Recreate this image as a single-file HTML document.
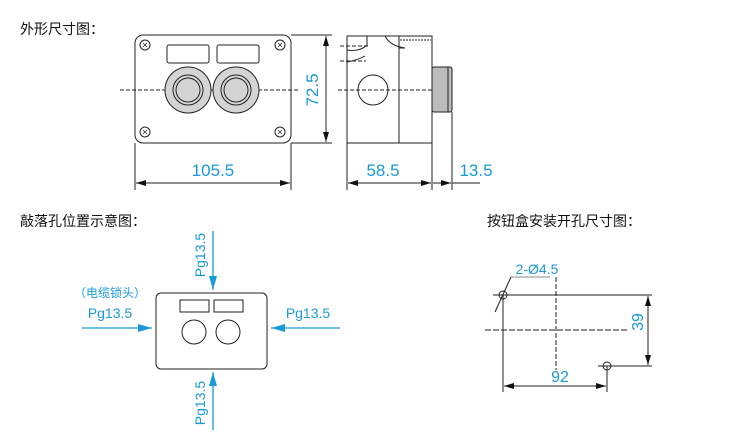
<!DOCTYPE html>
<html><head><meta charset="utf-8"><style>
body{margin:0;background:#fff;width:750px;height:441px;overflow:hidden}
svg{display:block}
.t{font-family:"Liberation Sans","Noto Sans CJK SC",sans-serif;font-size:14px;fill:#111}
.b{font-family:"Liberation Sans","Noto Sans CJK SC",sans-serif;fill:#1a9ad6}
</style></head><body>
<svg width="750" height="441" viewBox="0 0 750 441">
<defs>
<marker id="a" viewBox="0 0 10 6" refX="10" refY="3" markerWidth="10" markerHeight="6" orient="auto-start-reverse" markerUnits="userSpaceOnUse"><path d="M0,0L10,3L0,6z" fill="#111"/></marker>
<marker id="c" viewBox="0 0 14 8" refX="14" refY="4" markerWidth="14" markerHeight="8" orient="auto" markerUnits="userSpaceOnUse"><path d="M0,0L14,4L0,8z" fill="#1a9ad6"/></marker>
</defs>
<text class="t" x="20" y="34">外形尺寸图：</text>
<text class="t" x="20" y="226">敲落孔位置示意图：</text>
<text class="t" x="487" y="226">按钮盒安装开孔尺寸图：</text>
<g fill="none" stroke="#222" stroke-width="1">
<!-- front -->
<rect x="135" y="35" width="156" height="108" rx="8"/>
<g><circle cx="145" cy="45" r="5"/><circle cx="280" cy="45" r="5"/><circle cx="145" cy="132" r="5"/><circle cx="280" cy="132" r="5"/></g>
<g stroke-width="0.8"><path d="M143,43l4,4M147,43l-4,4M278,43l4,4M282,43l-4,4M143,130l4,4M147,130l-4,4M278,130l4,4M282,130l-4,4"/></g>
<rect x="167" y="45" width="42" height="18" rx="2"/><rect x="217" y="45" width="42" height="18" rx="2"/>
<line x1="120" y1="90" x2="300" y2="90" stroke-dasharray="4,2"/>
<circle cx="188" cy="90" r="23" fill="#d4d4d4"/><circle cx="188" cy="90" r="15" fill="#d4d4d4"/><circle cx="188" cy="90" r="12" fill="#d4d4d4"/>
<circle cx="236" cy="90" r="23" fill="#d4d4d4"/><circle cx="236" cy="90" r="15" fill="#d4d4d4"/><circle cx="236" cy="90" r="12" fill="#d4d4d4"/>
<line x1="291" y1="35" x2="332" y2="35"/><line x1="291" y1="143" x2="332" y2="143"/>
<line x1="326" y1="36" x2="326" y2="142" marker-start="url(#a)" marker-end="url(#a)"/>
<line x1="135" y1="143" x2="135" y2="190"/><line x1="291" y1="143" x2="291" y2="190"/>
<line x1="136" y1="183" x2="290" y2="183" marker-start="url(#a)" marker-end="url(#a)"/>
<!-- side -->
<path d="M347,36 H432 V143 H347 Z"/>
<line x1="399" y1="36" x2="399" y2="143"/>
<path d="M385,36 Q390,46 405,48 L399,48"/>
<path d="M400,40 H431" stroke-dasharray="2,1"/>
<path d="M347,50 Q360,52 367,45 V36"/><path d="M347,62 Q358,60 365,56"/>
<line x1="340" y1="46" x2="368" y2="46" stroke-dasharray="4,2"/><line x1="340" y1="61" x2="366" y2="61" stroke-dasharray="4,2"/>
<circle cx="373" cy="90" r="15"/>
<line x1="338" y1="90" x2="436" y2="90" stroke-dasharray="4,2"/>
<rect x="432" y="67" width="20" height="45" rx="2" fill="#bbb"/>
<line x1="448" y1="67" x2="448" y2="112"/>
<line x1="347" y1="143" x2="347" y2="190"/><line x1="432" y1="112" x2="432" y2="190"/><line x1="452" y1="112" x2="452" y2="190"/>
<line x1="348" y1="183" x2="431" y2="183" marker-start="url(#a)" marker-end="url(#a)"/>
<line x1="433" y1="183" x2="451" y2="183" marker-end="url(#a)"/><line x1="452" y1="183" x2="480" y2="183"/>
<!-- knockout -->
<rect x="156" y="293" width="111" height="76" rx="5"/>
<rect x="180" y="300" width="29" height="12"/><rect x="214" y="300" width="29" height="12"/>
<circle cx="194" cy="332" r="12"/><circle cx="228" cy="332" r="12"/>
<!-- mount -->
<circle cx="503" cy="295" r="4"/><circle cx="607" cy="366" r="4"/>
<line x1="493" y1="295" x2="652" y2="295"/><line x1="598" y1="366" x2="652" y2="366"/>
<line x1="648" y1="296" x2="648" y2="365" marker-start="url(#a)" marker-end="url(#a)"/>
<line x1="485" y1="330" x2="628" y2="330" stroke-dasharray="6,2"/>
<line x1="556" y1="277" x2="556" y2="370" stroke-dasharray="5,2"/>
<line x1="503" y1="295" x2="503" y2="392"/><line x1="607" y1="366" x2="607" y2="392"/>
<line x1="504" y1="386" x2="606" y2="386" marker-start="url(#a)" marker-end="url(#a)"/>
<line x1="511" y1="277" x2="550" y2="277" stroke="#888"/><line x1="511" y1="277" x2="495" y2="312"/>
</g>
<g stroke="#1a9ad6" stroke-width="1.3">
<line x1="213" y1="231" x2="213" y2="290" marker-end="url(#c)"/>
<line x1="213" y1="430" x2="213" y2="372" marker-end="url(#c)"/>
<line x1="82" y1="328" x2="152" y2="328" marker-end="url(#c)"/>
<line x1="340" y1="328" x2="271" y2="328" marker-end="url(#c)"/>
</g>
<g class="b">
<text x="312" y="90" font-size="17" text-anchor="middle" transform="rotate(-90 312 90)" dy="6">72.5</text>
<text x="213" y="176" font-size="17" text-anchor="middle">105.5</text>
<text x="383" y="176" font-size="17" text-anchor="middle">58.5</text>
<text x="476" y="176" font-size="17" text-anchor="middle">13.5</text>
<text x="200" y="255" font-size="14" text-anchor="middle" transform="rotate(-90 200 255)" dy="5">Pg13.5</text>
<text x="200" y="403" font-size="14" text-anchor="middle" transform="rotate(-90 200 403)" dy="5">Pg13.5</text>
<text x="110" y="297" font-size="12" text-anchor="middle">（电缆锁头）</text>
<text x="110" y="318" font-size="14" text-anchor="middle">Pg13.5</text>
<text x="308" y="318" font-size="14" text-anchor="middle">Pg13.5</text>
<text x="537" y="274" font-size="14" text-anchor="middle">2-Ø4.5</text>
<text x="637" y="322" font-size="16" text-anchor="middle" transform="rotate(-90 637 322)" dy="6">39</text>
<text x="560" y="382" font-size="16" text-anchor="middle">92</text>
</g>
</svg>
</body></html>
